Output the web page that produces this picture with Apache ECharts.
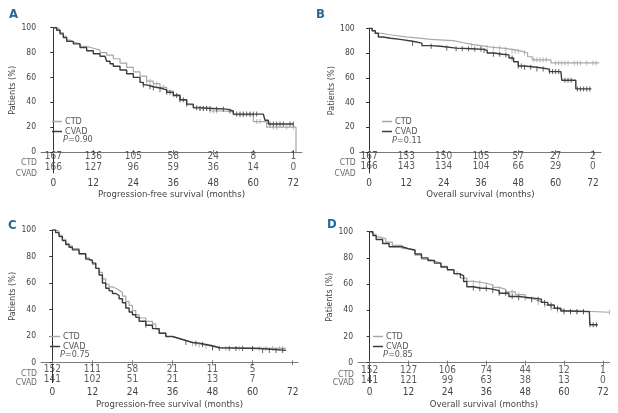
<!DOCTYPE html>
<html>
<head>
<meta charset="utf-8">
<script src="https://cdn.jsdelivr.net/npm/echarts@6/dist/echarts.min.js"></script>
<style>
  html, body { margin: 0; padding: 0; background: #fff; }
  #main { width: 618px; height: 413px; }
</style>
</head>
<body>
<div id="main"></div>
<script>
// ---- data ----
var xTicks = [0, 12, 24, 36, 48, 60, 72];
var yTicks = [0, 20, 40, 60, 80, 100];
var groups = ["CTD", "CVAD"];

// A: progression-free survival, all patients
var kmCtdA = [[0,100],[1,98.5],[2,96],[3,93],[4,90],[5,88.5],[6,87],[8,85],[10,83.5],[12,82],[14,80],[16,78],[18,75],[20,71.5],[22,68],[24,64.5],[26,61],[28,57],[30,55],[32,52],[34,49],[36,46],[38,42],[40,38],[42,36],[44,35],[47,33],[50,32.5],[54,30],[60,24.5],[64,20],[72.8,0]];
var kmCvadA = [[0,100],[1,98],[2,95],[3,92],[4,89],[6,87],[8,84],[10,81.5],[12,79],[14,77],[15.5,76],[16,73],[17,71],[18,69],[20,66],[22,63],[24,60],[26,56],[27,54],[28,52.5],[30,51.5],[32,50],[34,48],[36,45.5],[38,42],[40,38.5],[42,35.5],[44,35],[48,34.5],[52,33],[54,30.5],[63,30],[63.5,25.5],[64.5,22.5],[72,22.5]];
var censCtdA = [28,29,30,31,33,36,38,44,45,46,47,48,49,56,57,59,61,62,66,67,70,72];
var censCvadA = [27,29,30,32,34,35,37,38,39,40,43,44,45,46,47,49,51,53,55,56,57,58,59,60,61,65,66,67,68,69,71,72];
var riskCtdA = [167,136,105,58,24,8,1];
var riskCvadA = [166,127,96,59,36,14,0];

// B: overall survival, all patients
var kmCtdB = [[0,100],[1,98],[2,96],[4,95],[6,94],[9,93],[12,92],[16,91],[20,90.5],[24,90],[27,88.5],[30,87],[33,86],[36,84.5],[40,84],[43,83],[46,81.5],[49,80],[51,77],[52.5,74.5],[58.5,72],[74,72]];
var kmCvadB = [[0,100],[1,98],[2,96],[3,93],[4.5,92],[7,91],[10,89.5],[14,88],[17,86],[20,85.5],[23,84],[28,83.5],[33,83],[37,82],[38,80],[40,79],[43,78.5],[45,76],[46.5,73],[48,69.5],[50,68.5],[54,67],[58,65],[61.7,64.5],[62,58],[66.5,51],[71.5,51]];
var censCtdB = [33,36,38,40,42,44,46,47,48,50,53,54,55,56,57,60,61,62,63,64,66,67,68,70,72,73];
var censCvadB = [14,20,25,28,30,32,34,36,37,40,42,44,46,48,49,50,52,54,56,58,59,60,61,63,64,65,67,68,69,70,71];
var riskCtdB = [167,153,150,105,57,27,2];
var riskCvadB = [166,143,134,104,66,29,0];

// C: progression-free survival, second group
var kmCtdC = [[0,100],[1,99],[2,96],[3,93],[4,90],[5,88],[6,86],[8,82],[10,79],[11,77],[12,74],[13,71],[14,68],[15,63],[16,59],[17,57],[18,56],[19,54.5],[20,53],[21,50],[22,46],[23,43],[24,39],[25,36],[26,33.5],[28,31],[30,29],[31,25],[32,22],[34,19.5],[36,18],[38,16.5],[40,15],[42,14],[44,13],[46,12],[48,11],[50,10.5],[70,10.5]];
var kmCvadC = [[0,100],[1,98],[2,95],[3,92],[4,89],[5,87],[6,85],[8,82],[10,78],[11,77],[12,75],[13,71],[14,66],[15,60],[16,56],[17,54],[18,52],[19,50.5],[20,48],[21,45],[22,41],[23,38],[24,36],[25,34],[26,31],[28,28],[30,25.5],[32,22],[34,19.5],[36,18],[38,16.5],[40,15],[42,14.5],[44,13.5],[46,12.5],[48,11],[50,10.5],[62,9],[70,9]];
var censCtdC = [30,42,44,46,48,52,56,60,62,64,66,68,69];
var censCvadC = [28,40,43,45,48,50,53,55,57,60,63,65,67,69];
var riskCtdC = [152,111,58,21,11,5];
var riskCvadC = [141,102,51,21,13,7];

// D: overall survival, second group
var kmCtdD = [[0,100],[1,98],[2,96],[3,94.5],[5,92],[7,89.5],[10,87],[12,85.5],[14,82],[16,79],[18,77.5],[20,76],[22,73.5],[24,71],[26,68],[28,64.5],[30,62],[32,61],[35,59.5],[38,57.5],[40,56],[42,54],[45,52],[48,49],[50,47.5],[52,46],[54,44],[56,41.5],[58,40],[60,38.5],[74,38.5]];
var kmCvadD = [[0,100],[1,97],[2,94],[4,91],[6,88.5],[10,87],[12,86],[14,83],[16,80],[18,78],[20,76],[22,73],[24,71],[26,68],[27.5,66.5],[29,62],[30,58],[32,57],[34,56.5],[37,55],[40,53],[43,50.5],[46,49.5],[50,48.5],[53,46],[55,44],[57,41.5],[59,39.5],[61,39],[67.8,38.7],[68,29],[70.4,29]];
var censCtdD = [27,32,34,36,38,40,42,44,46,48,50,52,54,56,58,60,62,64,66,74];
var censCvadD = [28,32,34,36,38,40,42,44,46,50,52,54,56,58,60,62,64,66,68,69,70];
var riskCtdD = [152,127,106,74,44,12,1];
var riskCvadD = [141,121,99,63,38,13,0];

var pValues = ["0.90", "0.11", "0.75", "0.85"];
var letters = ["A", "B", "C", "D"];
var xNames = ["Progression-free survival (months)", "Overall survival (months)", "Progression-free survival (months)", "Overall survival (months)"];

// ---- layout / style ----
var FONT = "'Liberation Sans Narrow','DejaVu Sans Condensed','Liberation Sans',sans-serif";
var colCtd = "#a8a8a8";
var colCvad = "#3c3c3c";

var panels = [
  { km: [kmCtdA, kmCvadA], cens: [censCtdA, censCvadA], risk: [riskCtdA, riskCvadA],
    grid: { left: 41, top: 27.7, width: 261, height: 145.3 }, xMin: -3.7, xMax: 74.6, yMin: -16.9,
    rowY: [-3.2, -12.1], labY: [-8.6, -17.7], letter: [9, 8.5], legend: [47, 112], pPos: [63, 135.5] },
  { km: [kmCtdB, kmCvadB], cens: [censCtdB, censCvadB], risk: [riskCtdB, riskCvadB],
    grid: { left: 359.7, top: 28.3, width: 241.3, height: 144.7 }, xMin: -3.0, xMax: 74.6, yMin: -17,
    rowY: [-3.2, -11.9], labY: [-8.7, -17.8], letter: [316, 8.5], legend: [377, 112], pPos: [392, 136] },
  { km: [kmCtdC, kmCvadC], cens: [censCtdC, censCvadC], risk: [riskCtdC, riskCvadC],
    grid: { left: 41, top: 230, width: 257, height: 152.7 }, xMin: -3.4, xMax: 73.6, yMin: -15.4,
    rowY: [-5.1, -12.6], labY: [-8.6, -15.4], letter: [8, 219.5], legend: [45, 327], pPos: [60, 350] },
  { km: [kmCtdD, kmCvadD], cens: [censCtdD, censCvadD], risk: [riskCtdD, riskCvadD],
    grid: { left: 358, top: 231.7, width: 251.7, height: 151 }, xMin: -3.6, xMax: 74.1, yMin: -15.3,
    rowY: [-5.6, -13.2], labY: [-8.9, -15.3], letter: [327, 218.5], legend: [368, 327], pPos: [383, 350] }
];

function stepValue(km, t) {
  var v = km[0][1];
  for (var i = 0; i < km.length; i++) {
    if (km[i][0] <= t) v = km[i][1];
  }
  return v;
}

var option = {
  backgroundColor: "#fff",
  animation: false,
  textStyle: { fontFamily: FONT },
  grid: [], xAxis: [], yAxis: [], series: [], legend: [], title: [], graphic: []
};

panels.forEach(function (p, i) {
  option.grid.push(p.grid);
  // x axes: main + inward tick copy
  option.xAxis.push({
    type: "value", gridIndex: i, min: p.xMin, max: p.xMax, position: "bottom",
    axisLine: { lineStyle: { color: "#7a7a7a", width: 1 } },
    axisTick: { customValues: xTicks, length: 3, lineStyle: { color: "#7a7a7a" } },
    axisLabel: { customValues: xTicks, margin: 5, fontSize: 10, color: "#444", fontFamily: FONT },
    splitLine: { show: false },
    name: xNames[i], nameLocation: "middle", nameGap: 17,
    nameTextStyle: { fontSize: 9.5, color: "#444", fontFamily: FONT }
  });
  option.xAxis.push({
    type: "value", gridIndex: i, min: p.xMin, max: p.xMax, position: "bottom",
    axisLine: { show: false },
    axisTick: { customValues: xTicks, inside: true, length: 2, lineStyle: { color: "#7a7a7a" } },
    axisLabel: { show: false }, splitLine: { show: false }
  });
  option.yAxis.push({
    type: "value", gridIndex: i, min: p.yMin, max: 100,
    axisLine: { show: true, lineStyle: { color: "#333", width: 1 } },
    axisTick: { show: true, customValues: yTicks, length: 3, lineStyle: { color: "#333" } },
    axisLabel: { customValues: yTicks, margin: 5, fontSize: 8.5, color: "#444", fontFamily: FONT },
    splitLine: { show: false },
    name: "Patients (%)", nameLocation: "middle", nameGap: 12,
    nameTextStyle: { fontSize: 9, color: "#444", fontFamily: FONT, padding: [0, 0, 0, 20] }
  });
  option.yAxis.push({
    type: "value", gridIndex: i, min: p.yMin, max: 100,
    axisLine: { show: false },
    axisTick: { show: true, customValues: yTicks, inside: true, length: 2, lineStyle: { color: "#333" } },
    axisLabel: { show: false }, splitLine: { show: false }
  });

  var cols = [colCtd, colCvad];
  var widths = [1.2, 1.4];
  for (var g = 0; g < 2; g++) {
    var km = p.km[g];
    option.series.push({
      name: groups[g], type: "line", step: "end", xAxisIndex: i * 2, yAxisIndex: i * 2,
      data: km, symbol: "none", lineStyle: { color: cols[g], width: widths[g] },
      itemStyle: { color: cols[g] }, z: 2 + g
    });
    option.series.push({
      name: groups[g] + " censored " + letters[i], type: "scatter", xAxisIndex: i * 2, yAxisIndex: i * 2,
      data: p.cens[g].map(function (t) { return [t, stepValue(km, t)]; }),
      symbol: "rect", symbolSize: [1, 5], itemStyle: { color: cols[g] }, z: 2 + g
    });
    option.series.push({
      name: groups[g] + " at risk " + letters[i], type: "scatter", xAxisIndex: i * 2, yAxisIndex: i * 2,
      data: p.risk[g].map(function (n, k) { return [xTicks[k], p.rowY[g], n]; }),
      symbolSize: 0, silent: true,
      label: {
        show: true, position: "inside", fontSize: 10, color: "#333", fontFamily: FONT,
        formatter: function (prm) { return prm.value[2]; }
      }
    });
    // row name to the left of the y axis
    option.series.push({
      name: groups[g] + " row " + letters[i], type: "scatter", xAxisIndex: i * 2, yAxisIndex: i * 2,
      data: [[p.xMin, p.labY[g], groups[g]]], symbolSize: 0, silent: true, clip: false,
      label: {
        show: true, position: "left", distance: 4, fontSize: 8.5, color: "#444", fontFamily: FONT,
        formatter: function (prm) { return prm.value[2]; }
      }
    });
  }

  option.legend.push({
    data: [{ name: groups[0], icon: "rect" }, { name: groups[1], icon: "rect" }],
    orient: "vertical", left: p.legend[0], top: p.legend[1],
    itemWidth: 10, itemHeight: 1.5, itemGap: 1, selectedMode: false,
    textStyle: { fontSize: 9, color: "#555", fontFamily: FONT, padding: [0, 0, 0, -2] }
  });
  option.title.push({
    text: letters[i], left: p.letter[0], top: p.letter[1], padding: 0,
    textStyle: { fontSize: 13, fontWeight: "bold", color: "#226b9c", fontFamily: FONT }
  });
  option.graphic.push({
    type: "text", left: p.pPos[0], top: p.pPos[1],
    style: {
      text: "{i|P}=" + pValues[i], fontSize: 9, fill: "#555", fontFamily: FONT,
      rich: { i: { fontStyle: "italic", fontSize: 9, fill: "#555", fontFamily: FONT } }
    }
  });
});

var myChart = echarts.init(document.getElementById("main"));
myChart.setOption(option);
</script>
</body>
</html>
